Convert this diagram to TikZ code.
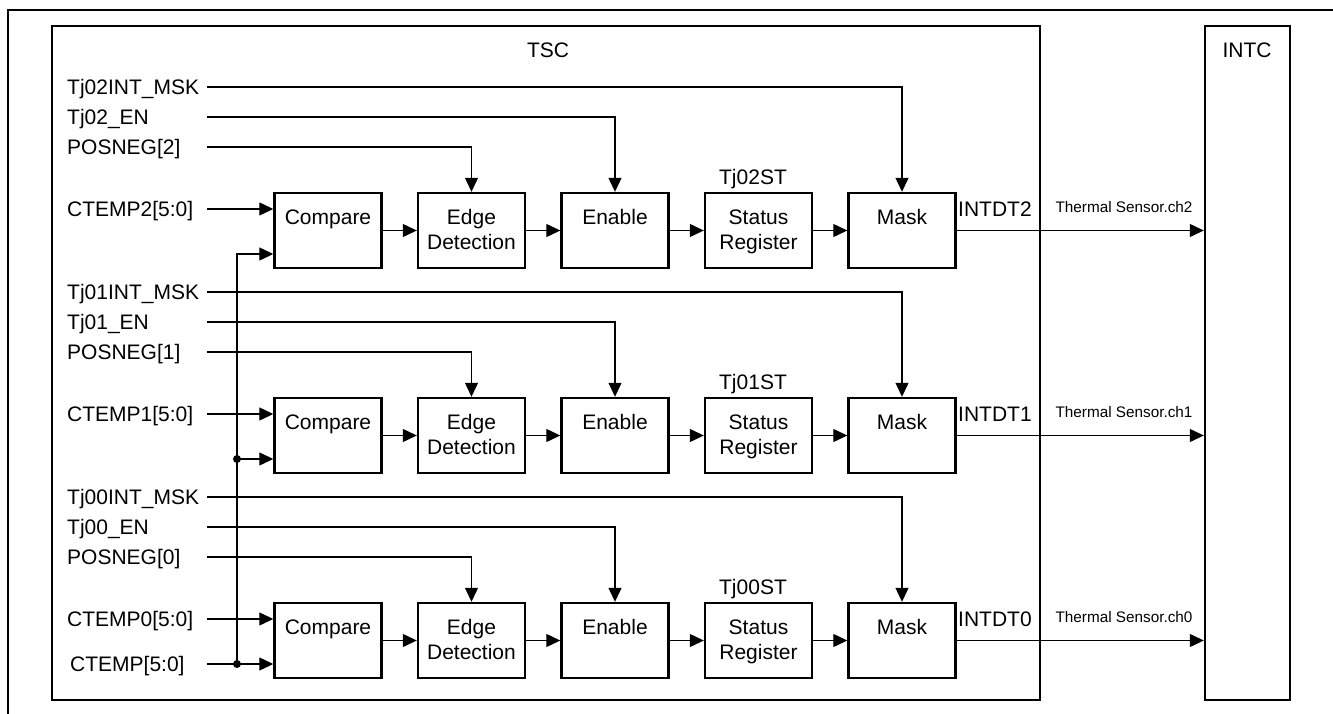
\documentclass[tikz,border=0pt]{standalone}
\usepackage{fontspec}
\setmainfont{Liberation Sans}
\usetikzlibrary{arrows.meta}
\newcommand\bxt[1]{\parbox[c][75pt][t]{104pt}{\centering\rule{0pt}{31pt}#1}}
\begin{document}
\begin{tikzpicture}[x=1pt,y=-1pt,
  font=\fontsize{21}{25}\selectfont,
  blk/.style={draw,line width=2.4pt,minimum width=107pt,minimum height=75pt,inner sep=0pt},
  sig/.style={line width=1.2pt,-{Triangle[length=14pt,width=13pt]}},
  wire/.style={line width=1.2pt},
  txt/.style={inner sep=0pt,text height=15pt,text depth=0pt},
  lbl/.style={txt,anchor=west,text width=136pt,align=left},
  small/.style={inner sep=0pt,font=\fontsize{15.3}{18}\selectfont,text height=11pt,text depth=0pt},
  jdot/.style={circle,fill,inner sep=0pt,minimum size=8pt},
  frame/.style={line width=2.2pt}]
\useasboundingbox (0,0) rectangle (1333,714);
% outer frame (top and left)
\draw[frame] (8,714) -- (8,10) -- (1333,10);
% TSC and INTC blocks
\node[draw,line width=2.4pt,minimum width=988pt,minimum height=674pt,inner sep=0pt] (tsc) at (546,363) {};
\node[txt] (tsct) at (548,50) {TSC};
\node[draw,line width=2.4pt,minimum width=85pt,minimum height=674pt,inner sep=0pt] (intc) at (1247.5,363) {};
\node[txt] (intct) at (1247,50) {INTC};
% rows
\foreach \r/\o in {2/0,1/205,0/410}{
  \node[blk] (c\r) at (328,230.5+\o) {\bxt{Compare}};
  \node[blk] (e\r) at (471.5,230.5+\o) {\bxt{Edge\\Detection}};
  \node[blk] (n\r) at (615,230.5+\o) {\bxt{Enable}};
  \node[blk] (s\r) at (758.5,230.5+\o) {\bxt{Status\\Register}};
  \node[blk] (m\r) at (902,230.5+\o) {\bxt{Mask}};
  \node[lbl] (lm\r) at (67,87+\o) {Tj0\r INT\_MSK};
  \node[lbl] (le\r) at (67,117+\o) {Tj0\r\_EN};
  \node[lbl] (lp\r) at (67,147+\o) {POSNEG[\r]};
  \node[lbl] (lc\r) at (67,209+\o) {CTEMP\r[5:0]};
  \node[txt] (st\r) at (753,177+\o) {Tj0\r ST};
  \node[txt,anchor=west] (it\r) at (958,209+\o) {INTDT\r};
  \node[small] (th\r) at (1124,207+\o) {Thermal Sensor.ch\r};
  \draw[sig] ([xshift=4pt]lm\r.east) -| (m\r.north);
  \draw[sig] ([xshift=4pt]le\r.east) -| (n\r.north);
  \draw[sig] ([xshift=4pt]lp\r.east) -| (e\r.north);
  \draw[sig] ([xshift=4pt]lc\r.east) -- (lc\r.east -| c\r.west);
  \draw[sig] (c\r) -- (e\r);
  \draw[sig] (e\r) -- (n\r);
  \draw[sig] (n\r) -- (s\r);
  \draw[sig] (s\r) -- (m\r);
  \draw[sig] (m\r) -- (m\r.east -| intc.west);
  \coordinate (j\r) at (237,254+\o);
}
% common CTEMP[5:0] bus
\node[lbl] (lct) at (70,664) {CTEMP[5:0]};
\draw[wire] ([xshift=1pt]lct.east) -- (j0);
\draw[sig] (j0) -- (j2) -- (j2 -| c2.west);
\draw[sig] (j1) -- (j1 -| c1.west);
\draw[sig] (j0) -- (j0 -| c0.west);
\node[jdot] (d1) at (j1) {};
\node[jdot] (d0) at (j0) {};
\end{tikzpicture}
\end{document}
